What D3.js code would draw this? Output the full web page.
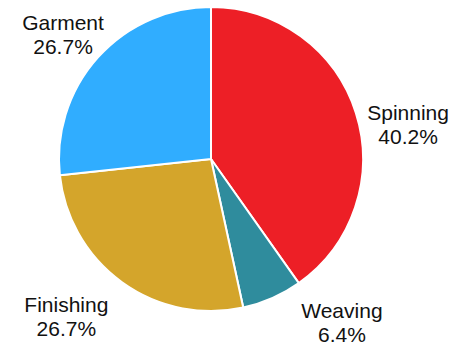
<!DOCTYPE html>
<html>
<head>
<meta charset="utf-8">
<script src="https://cdn.jsdelivr.net/npm/d3@7"></script>
<style>
  html, body { margin: 0; padding: 0; background: #ffffff; }
  svg { display: block; }
</style>
</head>
<body>
<svg id="chart" width="454" height="346"></svg>
<script>
// Share of each production stage (percent)
const stages = ["Spinning", "Weaving", "Finishing", "Garment"];
const shares = [40.2, 6.4, 26.7, 26.7];
const percentLabels = ["40.2%", "6.4%", "26.7%", "26.7%"];
const sliceColors = ["#ED1F26", "#2F8C9D", "#D4A52B", "#30ADFF"];

// Label layout: angular nudge (degrees) from the slice middle and distance from the centre
const labelAngleNudge = [7.8, -14.8, 6.7, -2.0];
const labelDistance = [200, 210, 214, 193];

const width = 454, height = 346;
const cx = 211, cy = 159, radius = 152;

const svg = d3.select("#chart");
const g = svg.append("g").attr("transform", `translate(${cx},${cy})`);

const pie = d3.pie().sort(null).value(d => d.value);
const arc = d3.arc().innerRadius(0).outerRadius(radius);

const rows = stages.map((s, i) => ({
  stage: s, value: shares[i], pct: percentLabels[i], color: sliceColors[i],
  nudge: labelAngleNudge[i], dist: labelDistance[i]
}));
const arcs = pie(rows);

g.selectAll("path.slice")
  .data(arcs)
  .join("path")
  .attr("class", "slice")
  .attr("d", arc)
  .attr("fill", d => d.data.color)
  .attr("stroke", "#ffffff")
  .attr("stroke-width", 2)
  .attr("stroke-linejoin", "round");

const labels = g.selectAll("text.label")
  .data(arcs)
  .join("text")
  .attr("class", "label")
  .attr("text-anchor", "middle")
  .attr("font-family", "'Liberation Sans', Arial, Helvetica, sans-serif")
  .attr("font-size", 21)
  .attr("fill", "#111111")
  .attr("transform", d => {
    const a = (d.startAngle + d.endAngle) / 2 + d.data.nudge * Math.PI / 180;
    const x = d.data.dist * Math.sin(a);
    const y = -d.data.dist * Math.cos(a);
    return `translate(${x},${y})`;
  });

labels.append("tspan").attr("x", 0).attr("y", -5).text(d => d.data.stage);
labels.append("tspan").attr("x", 0).attr("y", 19).text(d => d.data.pct);
</script>
</body>
</html>
